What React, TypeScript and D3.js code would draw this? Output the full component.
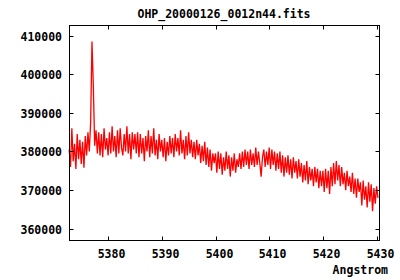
import React, { useEffect, useRef } from 'react';
import * as d3 from 'd3';

// spectrum: start wavelength + step (linear dispersion as in the FITS header)
const lambdaStart = 5372.7;
const lambdaStep = 0.25;

const flux = [
  // 5372.7 - 5375
  380500, 376000, 386000, 377500, 382000, 375500, 384500, 378000, 383000, 376800,
  382500, 375800, 384000, 379000, 385000, 380000,
  // spike
  387500, 408500, 397000, 381500,
  385500, 379500, 385000, 379000, 384500, 378500, 386000, 380500, 383500,
  // 5380
  379000, 385000, 379500, 386500, 380000, 384000, 378500, 385500, 379500, 386000,
  381000, 379000, 384500, 380000, 386500, 379500, 384500, 378000, 385000, 380500,
  // 5385
  384500, 379500, 385000, 378500, 384500, 379500, 383500, 377500, 384000, 380000,
  385500, 378500, 384000, 379500, 386000, 379000, 383000, 378000, 384500, 380000,
  // 5390
  383000, 378500, 383500, 377500, 382500, 379000, 384000, 379500, 383500, 378500,
  384500, 380000, 383500, 379000, 385500, 379500, 383000, 378000, 384000, 379000,
  // 5395
  385000, 379500, 383000, 378500, 382500, 378000, 383000, 379000, 382000, 377000,
  381500, 377500, 382500, 376500, 381000, 376000, 380500, 375000, 379500, 377000,
  // 5400
  379500, 374500, 380000, 375500, 379500, 374000, 378500, 375000, 380000, 375500,
  379000, 373500, 378500, 375000, 379500, 374500, 378000, 376000, 379500, 375500,
  // 5405
  380000, 376000, 380500, 376500, 380000, 375500, 380500, 376500, 379500, 376000,
  381000, 376500, 380000, 377000, 373500, 378500, 380500, 376000, 380000, 376500,
  // 5410
  381000, 375500, 380500, 376500, 380000, 375000, 379500, 375500, 380000, 374500,
  379000, 373500, 378500, 374500, 379000, 374000, 378000, 373000, 378500, 374500,
  // 5415
  377500, 373000, 378000, 373500, 377000, 372000, 376500, 372500, 377500, 371500,
  376000, 372500, 375500, 371000, 376000, 372000, 375500, 370500, 375000, 371000,
  // 5420
  375000, 369500, 375500, 370500, 375000, 369000, 376000, 371000, 377000, 371500,
  377500, 372500, 376500, 371000, 376000, 371500, 374500, 370000, 375000, 371000,
  // 5425
  373500, 369500, 374500, 369000, 373000, 368000, 373000, 369500, 372000, 366000,
  372500, 367500, 371000, 365500, 372000, 367000, 371500, 364500, 370500, 366500,
  371000, 368000,
];

const xTicks = [5380, 5390, 5400, 5410, 5420, 5430];
const yTicks = [360000, 370000, 380000, 390000, 400000, 410000];

const title = 'OHP_20000126_0012n44.fits';
const xLabel = 'Angstrom';

const SpectrumPlot = () => {
  const svgRef = useRef(null);

  useEffect(() => {
    const svg = d3.select(svgRef.current);
    svg.selectAll('*').remove();

    const W = 400;
    const H = 280;
    const margin = { top: 25, right: 21, bottom: 40, left: 69 };
    const width = W - margin.left - margin.right;
    const height = H - margin.top - margin.bottom;
    const font = "'DejaVu Sans Mono', monospace";

    svg.attr('width', W).attr('height', H);

    const data = flux.map((v, i) => ({ x: lambdaStart + i * lambdaStep, y: v }));

    const x = d3.scaleLinear().domain([5372.67, 5430.4]).range([margin.left, margin.left + width]);
    const y = d3.scaleLinear().domain([357070, 412770]).range([margin.top + height, margin.top]);

    svg.append('rect').attr('width', W).attr('height', H).attr('fill', '#fff');

    // title
    svg.append('text')
      .attr('x', margin.left + width / 2)
      .attr('y', 18)
      .attr('text-anchor', 'middle')
      .style('font-family', font)
      .style('font-weight', 'bold')
      .style('font-size', '11.5px')
      .text(title);

    // data line
    const line = d3.line().x((d) => x(d.x)).y((d) => y(d.y));
    svg.append('path')
      .datum(data)
      .attr('d', line)
      .attr('fill', 'none')
      .attr('stroke', '#ff0000')
      .attr('stroke-width', 1.3);

    const tickLen = 4;
    const left = margin.left + 0.5;
    const right = margin.left + width + 0.5;
    const top = margin.top + 0.5;
    const bottom = margin.top + height + 0.5;

    // frame
    svg.append('rect')
      .attr('x', left).attr('y', top)
      .attr('width', width).attr('height', height)
      .attr('fill', 'none').attr('stroke', '#000').attr('stroke-width', 1);

    // x ticks (inward, bottom + top)
    const gx = svg.append('g');
    xTicks.forEach((t) => {
      const px = Math.round(x(t)) + 0.5;
      gx.append('line').attr('x1', px).attr('x2', px).attr('y1', bottom).attr('y2', bottom - tickLen).attr('stroke', '#000');
      gx.append('line').attr('x1', px).attr('x2', px).attr('y1', top).attr('y2', top + tickLen).attr('stroke', '#000');
      gx.append('text')
        .attr('x', px + 3)
        .attr('y', 258)
        .attr('text-anchor', 'middle')
        .style('font-family', font)
        .style('font-weight', 'bold')
        .style('font-size', '11.5px')
        .text(t);
    });

    // y ticks (inward, left + right)
    const gy = svg.append('g');
    yTicks.forEach((t) => {
      const py = Math.round(y(t)) + 0.5;
      gy.append('line').attr('x1', left).attr('x2', left + tickLen).attr('y1', py).attr('y2', py).attr('stroke', '#000');
      gy.append('line').attr('x1', right).attr('x2', right - tickLen).attr('y1', py).attr('y2', py).attr('stroke', '#000');
      gy.append('text')
        .attr('x', 62)
        .attr('y', py + 4)
        .attr('text-anchor', 'end')
        .style('font-family', font)
        .style('font-weight', 'bold')
        .style('font-size', '11.5px')
        .text(t);
    });

    // x axis label
    svg.append('text')
      .attr('x', 388)
      .attr('y', 274)
      .attr('text-anchor', 'end')
      .style('font-family', font)
      .style('font-weight', 'bold')
      .style('font-size', '11.5px')
      .text(xLabel);
  }, []);

  return <svg ref={svgRef} style={{ position: 'absolute', left: 0, top: 0, display: 'block' }}></svg>;
};

export default function App() {
  return <SpectrumPlot />;
}
